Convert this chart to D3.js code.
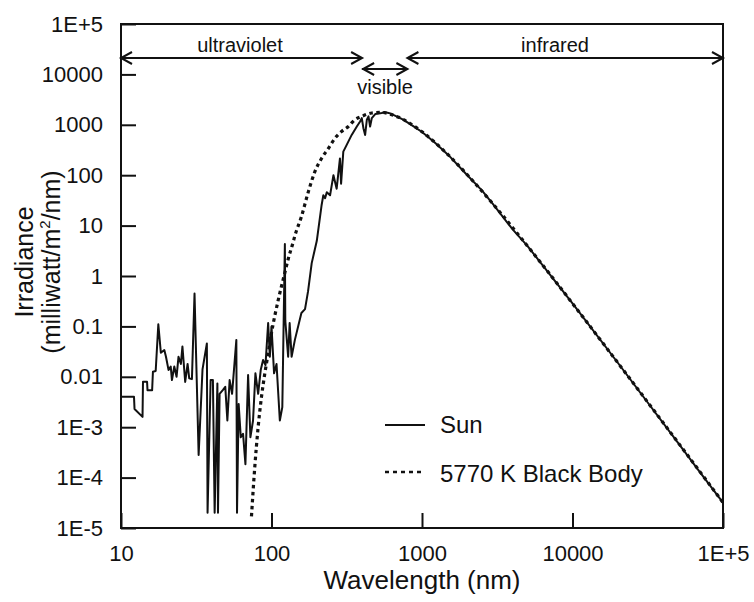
<!DOCTYPE html>
<html>
<head>
<meta charset="utf-8">
<script src="https://cdn.jsdelivr.net/npm/d3@7"></script>
<style>
  body { margin: 0; background: #fff; }
  svg { font-family: "Liberation Sans", Arial, sans-serif; }
</style>
</head>
<body>
<svg width="754" height="602"></svg>
<script>
// values
const sunWavelength = [10, 12.2, 12.3, 13.9, 14.0, 14.9, 15.0, 16.1, 16.3, 17.0, 17.7, 18.4, 19.4, 19.9, 20.7, 21.4, 21.8, 22.6, 23.4, 24.1, 25.0, 25.6, 26.7, 27.7, 28.4, 29.6, 30.8, 32.8, 34.8, 37.2, 37.6, 39.4, 40.8, 41.9, 43.7, 44.1, 45.2, 47.6, 49.3, 50.9, 52.7, 54.7, 58.4, 59.0, 60.5, 62.5, 64.7, 67.1, 69.9, 72.4, 75.4, 78.2, 81.5, 84.8, 87.9, 91.2, 95, 97.5, 100, 104, 108, 113.6, 118, 122.7, 123.5, 129, 132, 136, 143, 158, 167, 175, 185, 200, 215, 221, 227, 233, 245, 258, 271, 285, 290, 300, 316, 341, 369, 388, 398, 408, 419, 430, 441, 452, 464, 489, 541, 560, 600, 650, 700, 760, 800, 900, 1000, 1200, 1500, 2000, 2500, 3000, 4000, 5000, 7000, 10000, 20000, 30000, 50000, 70000, 100000];
const sunIrradiance = [0.004, 0.004, 0.0023, 0.0016, 0.008, 0.008, 0.0054, 0.0054, 0.0126, 0.013, 0.11, 0.03, 0.034, 0.025, 0.0136, 0.016, 0.0086, 0.016, 0.01, 0.025, 0.018, 0.04, 0.0079, 0.018, 0.0093, 0.009, 0.45, 0.00028, 0.014, 0.046, 0.00002, 0.0086, 0.0086, 0.00002, 0.0074, 0.00002, 0.0046, 0.0055, 0.0063, 0.00136, 0.0086, 0.0046, 0.054, 0.00002, 0.0029, 0.00063, 0.00074, 0.000185, 0.0108, 0.00063, 0.00136, 0.0117, 0.0046, 0.0136, 0.0216, 0.017, 0.117, 0.025, 0.1, 0.0117, 0.018, 0.00136, 0.0025, 4.3, 0.13, 0.025, 0.117, 0.025, 0.054, 0.185, 0.22, 0.5, 1.8, 5, 25, 40, 35, 46, 40, 100, 54, 215, 68, 293, 400, 630, 926, 1166, 1360, 858, 630, 1259, 1468, 926, 1360, 1635, 1712, 1790, 1720, 1560, 1400, 1240, 1120, 890, 720, 460, 250, 100, 50, 25.5, 8.4, 4.0, 1.12, 0.285, 0.019, 0.0038, 0.0005, 0.00013, 0.000032];

const bbWavelength = [73.6, 77.4, 81.5, 85.8, 90.3, 95, 100, 111, 122.7, 129, 139, 143, 158, 175, 194, 215, 239, 264, 292, 324, 358, 398, 464, 541, 600, 700, 800, 1000, 1500, 2000, 3000, 5000, 7000, 10000, 20000, 30000, 50000, 70000, 100000];
const bbIrradiance = [0.000017, 0.00016, 0.001, 0.004, 0.0117, 0.029, 0.074, 0.34, 1.17, 2.15, 4.6, 6.3, 15, 45, 117, 215, 341, 541, 736, 926, 1259, 1468, 1712, 1760, 1658, 1407, 1145, 729, 250, 102, 25.7, 4.0, 1.13, 0.286, 0.019, 0.00385, 0.000507, 0.000133, 0.000032];

const yTicks = [1e-5, 1e-4, 1e-3, 0.01, 0.1, 1, 10, 100, 1000, 10000, 1e5];
const yTickLabels = ['1E-5', '1E-4', '1E-3', '0.01', '0.1', '1', '10', '100', '1000', '10000', '1E+5'];
const xTicks = [10, 100, 1000, 10000, 1e5];
const xTickLabels = ['10', '100', '1000', '10000', '1E+5'];

// spectral regions (nm) for the arrows on top
const regionNames = ['ultraviolet', 'visible', 'infrared'];
const regionFrom = [10, 400, 800];
const regionTo = [400, 800, 1e5];

const legendNames = ['Sun', '5770 K Black Body'];

const svg = d3.select('svg');

const plotLeft = 121, plotRight = 723, plotTop = 24, plotBottom = 528;

const x = d3.scaleLog().domain([10, 1e5]).range([plotLeft, plotRight]);
const y = d3.scaleLog().domain([1e-5, 1e5]).range([plotBottom, plotTop]);

// axes with inward ticks
const yAxis = d3.axisLeft(y)
    .tickValues(yTicks)
    .tickFormat((d, i) => yTickLabels[i])
    .tickSizeInner(-15)
    .tickSizeOuter(0)
    .tickPadding(18);

const xAxis = d3.axisBottom(x)
    .tickValues(xTicks)
    .tickFormat((d, i) => xTickLabels[i])
    .tickSizeInner(-15)
    .tickSizeOuter(0)
    .tickPadding(17);

const gy = svg.append('g').attr('transform', `translate(${plotLeft},0)`).call(yAxis);
const gx = svg.append('g').attr('transform', `translate(0,${plotBottom})`).call(xAxis);

[gx, gy].forEach(g => {
    g.select('.domain').remove();
    g.selectAll('line').attr('stroke', '#111').attr('stroke-width', 2);
    g.selectAll('text').attr('fill', '#111').attr('font-size', 22)
        .attr('font-family', '"Liberation Sans", Arial, sans-serif');
});

// frame
svg.append('rect')
    .attr('x', plotLeft).attr('y', plotTop)
    .attr('width', plotRight - plotLeft).attr('height', plotBottom - plotTop)
    .attr('fill', 'none').attr('stroke', '#111').attr('stroke-width', 2);

// curves
const sunLine = d3.line()
    .x(d => x(d[0]))
    .y(d => y(d[1]));

const bbLine = d3.line()
    .x(d => x(d[0]))
    .y(d => y(d[1]))
    .curve(d3.curveMonotoneX);

svg.append('path')
    .datum(d3.zip(bbWavelength, bbIrradiance))
    .attr('d', bbLine)
    .attr('fill', 'none')
    .attr('stroke', '#111')
    .attr('stroke-width', 3.2)
    .attr('stroke-dasharray', '3.5,3.5');

svg.append('path')
    .datum(d3.zip(sunWavelength, sunIrradiance))
    .attr('d', sunLine)
    .attr('fill', 'none')
    .attr('stroke', '#111')
    .attr('stroke-width', 2)
    .attr('stroke-linejoin', 'round');

// region arrows
function chevron(px, py, dir) {
    svg.append('path')
        .attr('d', `M${px - dir * 11},${py - 6}L${px},${py}L${px - dir * 11},${py + 6}`)
        .attr('fill', 'none').attr('stroke', '#111').attr('stroke-width', 2);
}

const arrowY = [58, 69, 58];
const labelY = [52, 94, 52];
const labelX = [240, 385, 555];

regionNames.forEach((name, i) => {
    const x0 = x(regionFrom[i]), x1 = x(regionTo[i]);
    svg.append('line')
        .attr('x1', x0).attr('x2', x1)
        .attr('y1', arrowY[i]).attr('y2', arrowY[i])
        .attr('stroke', '#111').attr('stroke-width', 2);
    chevron(x0 + (i === 1 ? 1 : 0), arrowY[i], -1);
    chevron(x1, arrowY[i], 1);
    svg.append('text').attr('x', labelX[i]).attr('y', labelY[i])
        .attr('text-anchor', 'middle')
        .attr('font-size', 20).attr('fill', '#111').text(name);
});

// legend
const legend = svg.append('g').attr('transform', 'translate(385,425)');
legend.append('line').attr('x1', 0).attr('x2', 40).attr('y1', 0).attr('y2', 0)
    .attr('stroke', '#111').attr('stroke-width', 1.8);
legend.append('line').attr('x1', 0).attr('x2', 40).attr('y1', 47).attr('y2', 47)
    .attr('stroke', '#111').attr('stroke-width', 2.5).attr('stroke-dasharray', '4,4');
legend.selectAll('text.leg').data(legendNames).enter().append('text')
    .attr('class', 'leg')
    .attr('x', 55)
    .attr('y', (d, i) => 8 + i * 49)
    .attr('font-size', 24)
    .attr('fill', '#111')
    .text(d => d);

// axis titles
svg.append('text')
    .attr('x', (plotLeft + plotRight) / 2).attr('y', 589)
    .attr('text-anchor', 'middle').attr('font-size', 26).attr('fill', '#111')
    .text('Wavelength (nm)');

svg.append('text')
    .attr('transform', 'translate(33,262) rotate(-90)')
    .attr('text-anchor', 'middle').attr('font-size', 25).attr('fill', '#111')
    .text('Irradiance');

const t2 = svg.append('text')
    .attr('transform', 'translate(60,262) rotate(-90)')
    .attr('text-anchor', 'middle').attr('font-size', 25).attr('fill', '#111');
t2.append('tspan').text('(milliwatt/m');
t2.append('tspan').attr('font-size', 15).attr('dy', -10).text('2');
t2.append('tspan').attr('dy', 10).text('/nm)');
</script>
</body>
</html>
